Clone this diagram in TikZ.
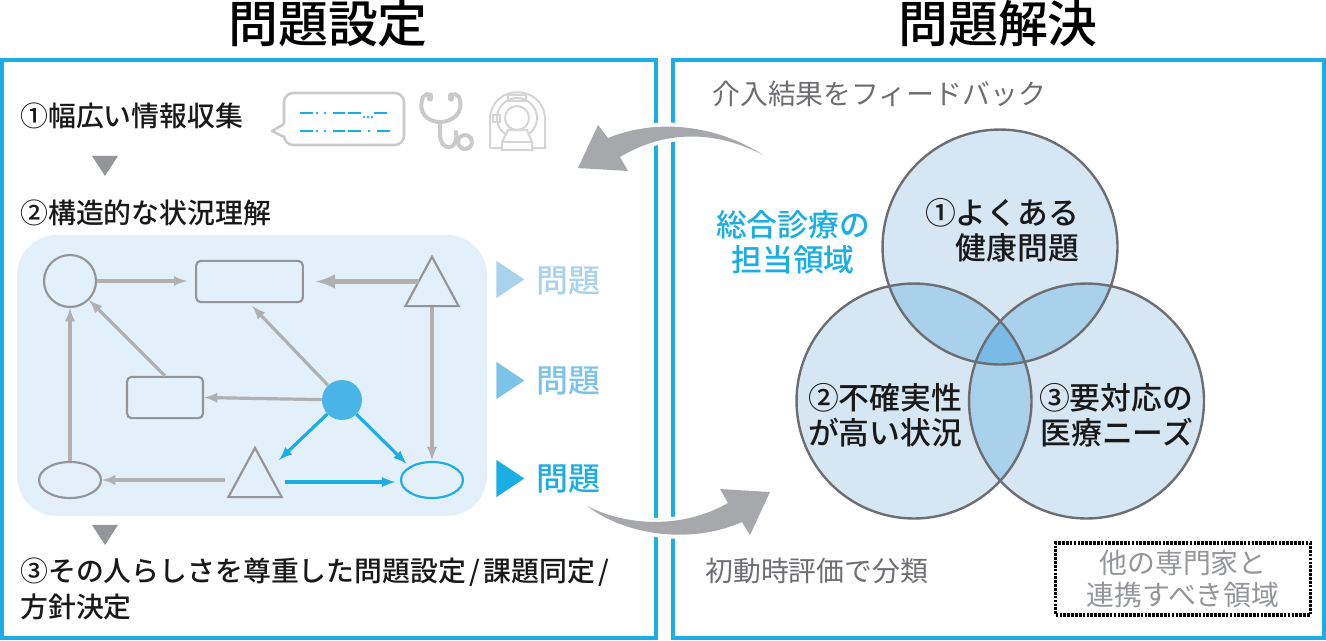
\documentclass[tikz,border=0pt]{standalone}
\usepackage{fontspec}
\setmainfont{Noto Sans CJK JP}
\newfontfamily\boldjp{Noto Sans CJK JP Medium}
\usetikzlibrary{shapes.geometric}
\definecolor{skyline}{HTML}{1AAEE5}
\definecolor{panelbg}{HTML}{E3F0FA}
\definecolor{lineg}{HTML}{B0B0B3}
\definecolor{nodeg}{HTML}{939598}
\definecolor{textg}{HTML}{6D6E71}
\definecolor{arrowg}{HTML}{A7A8AB}
\definecolor{icong}{HTML}{C9CACA}
\definecolor{vennA}{HTML}{D6E6F3}
\definecolor{vennB}{HTML}{A9D1EC}
\definecolor{vennC}{HTML}{79BAE6}
\definecolor{probA}{HTML}{A9D3EC}
\definecolor{probB}{HTML}{7DC2E9}
\definecolor{hub}{HTML}{49B4E6}
\begin{document}
\begin{tikzpicture}[x=0.75pt, y=-0.75pt,
    txt/.style = {anchor=west, inner sep=0, font=\fontsize{20.9}{26}\boldjp, text=black!90},
    head/.style = {inner sep=0, font=\fontsize{37.4}{44}\boldjp},
    note/.style = {anchor=west, inner sep=0, font=\fontsize{20.9}{26}\selectfont, text=textg},
    venntxt/.style = {inner sep=0, align=right, font=\fontsize{23.1}{26.5}\boldjp, text=black!90},
    panel/.style = {draw=skyline, line width=3pt},
    venn/.style = {circle, minimum size=176.2pt, inner sep=0},
    shp/.style = {draw=nodeg, line width=1.6pt, inner sep=0},
    oval/.style = {shp, ellipse, minimum width=46.5pt, minimum height=27pt},
    box/.style = {shp, rectangle, rounded corners=3.5pt},
    tri/.style = {shp, isosceles triangle, isosceles triangle stretches, shape border rotate=90, minimum width=40pt, minimum height=37pt},
    go/.style = {draw=lineg, line width=2.4pt, -latex},
    gob/.style = {draw=skyline, line width=2.4pt, -latex},
    play/.style = {isosceles triangle, isosceles triangle stretches, anchor=west, inner sep=0, minimum width=28pt, minimum height=21pt},
    down/.style = {isosceles triangle, isosceles triangle stretches, shape border rotate=-90, inner sep=0, fill=nodeg, minimum width=19.5pt, minimum height=15pt},
    prob/.style = {inner sep=0, font=\fontsize{24}{28}\boldjp},
    bigbend/.style = {fill=arrowg, preaction={draw=white, line width=6pt}},
    dashln/.style = {draw=skyline, line width=1.1pt},
    dotb/.style = {fill=skyline, circle, inner sep=0, minimum size=2pt},
    icon/.style = {draw=icong, line width=3pt},
    mri/.style = {draw=icong!80, line width=1.5pt}
    ]
    \useasboundingbox (0,0) rectangle (1326,640);
    \node[head] (h1) at (328,24) {問題設定};
    \node[head] (h2) at (998,24) {問題解決};
    \draw[panel] (2,60) rectangle (656,638);
    \draw[panel] (673,60) rectangle (1324,638);

    \node[txt] (s1) at (20,116) {①幅広い情報収集};
    \node[down] (d1) at (105,163) {};
    \node[txt] (s2) at (20,213) {②構造的な状況理解};
    \node[down] (d2) at (105,532) {};
    \node[txt, align=left, font=\fontsize{20.9}{27}\boldjp] (s3) at (20,589) {③その人らしさを尊重した問題設定\hspace{0.12em}/\hspace{0.12em}課題同定\hspace{0.12em}/\\方針決定};

    \draw[icong, line width=1.9pt, rounded corners=7pt, fill=white]
        (284,124) -- (284,93) -- (404,93) -- (404,145) -- (284,145) -- (284,137);
    \draw[icong, line width=1.9pt, line join=round] (284,124) -- (272,131) -- (284,137);
    \draw[dashln] (300,113) -- (313,113) (333,113) -- (345,113) (348,113) -- (361,113) (374,113) -- (387,113)
        (300,131) -- (313,131) (333,131) -- (345,131) (348,131) -- (361,131) (377,131) -- (390,131);
    \foreach \dx/\dy in {317/113, 325/113, 364/117, 368/117, 372/117, 317/131, 325/131, 369/131}
        \node[dotb] (dt\dx\dy) at (\dx,\dy) {};

    \draw[icon, line cap=round] (423,97) .. controls (417,113) and (428,122) .. (440,122)
        .. controls (452,122) and (465,113) .. (459,97);
    \draw[icon, line cap=round] (423,97) -- (427,94) (459,97) -- (455,94);
    \draw[icon, line cap=round] (440,122) -- (440,134) .. controls (440,152) and (459,152) .. (456,132);
    \draw[icon, line cap=round, line width=4pt] (430,95) -- (430,99) (451,95) -- (451,99);
    \draw[icon] (465,142) circle [radius=5.2pt];

    \draw[mri] (490,148) -- (490,120) .. controls (490,83) and (545,83) .. (545,120) -- (545,148) -- cycle;
    \draw[mri] (517,118) circle [radius=15pt];
    \draw[mri] (517,118) circle [radius=9pt];
    \draw[mri] (508,95) rectangle (526,101);
    \draw[mri] (493,115) rectangle (500,122);
    \draw[mri, fill=white] (508,130) -- (527,130) -- (532,142) -- (532,150) -- (502,150) -- (502,142) -- cycle;
    \draw[mri] (502,142) -- (532,142);

    \fill[panelbg, rounded corners=30pt] (17,235) rectangle (487,516);
    \node[shp, ellipse, minimum width=39pt, minimum height=39pt] (c1) at (70,281) {};
    \node[box, minimum width=80pt, minimum height=31pt] (r1) at (249.5,281.5) {};
    \node[tri, anchor=north] (t1) at (432,254) {};
    \node[box, minimum width=57pt, minimum height=31pt] (r2) at (165,397.5) {};
    \node[circle, fill=hub, draw=none, minimum size=30pt, inner sep=0] (f1) at (342,400) {};
    \node[oval] (e1) at (70,480) {};
    \node[tri, anchor=north] (t2) at (255,445) {};
    \node[oval, draw=skyline] (e2) at (432,480) {};
    \coordinate (t2r) at (279,460);

    \draw[go, shorten >=6pt] (c1) -- (c1 -| r1.west);
    \draw[go, line width=3.9pt, shorten <=10pt, shorten >=9pt] (t1 |- r1) -- (r1.east);
    \draw[go, shorten >=0.5pt] (t1.south) -- (e2.north);
    \draw[go, shorten >=3pt] (f1) -- (r1.south);
    \draw[go] (f1) -- (r2.east);
    \draw[go] (r2.north) -- (c1);
    \draw[go] (e1.north) -- (c1.south);
    \draw[go, shorten <=22.5pt] (t2 |- e1) -- (e1.east);
    \draw[gob] (f1) -- (t2r);
    \draw[gob, shorten >=3pt] (f1) -- (e2.north west);
    \draw[gob, shorten <=22.5pt, shorten >=3.5pt] ([yshift=-1.5pt]t2 |- e2) -- ([yshift=-1.5pt]e2.west);

    \node[play, fill=probA] (p1) at (496,279.5) {};
    \node[prob, text=probA] (q1) at (568,281) {問題};
    \node[play, fill=probB] (p2) at (496,380.5) {};
    \node[prob, text=probB] (q2) at (568,381) {問題};
    \node[play, fill=skyline] (p3) at (496,478.5) {};
    \node[prob, text=skyline] (q3) at (568,479) {問題};

    \fill[bigbend] (763,155) .. controls (725,130) and (665,115) .. (608,138) -- (598,125) -- (578,168) -- (628,171) -- (620,157)
        .. controls (665,130) and (715,130) .. cycle;
    \fill[bigbend] (587,506) .. controls (625,535) and (690,545) .. (742,522) -- (750,535) -- (770,492) -- (720,489) -- (728,503)
        .. controls (690,525) and (635,530) .. cycle;

    \node[note] (n1) at (712,94) {介入結果をフィードバック};
    \node[note] (n2) at (705,571) {初動時評価で分類};

    \fill[vennA] (1000,247) circle [radius=88.1pt] (914,401) circle [radius=88.1pt] (1086.5,401) circle [radius=88.1pt];
    \begin{scope}
        \clip (1000,247) circle [radius=88.1pt];
        \fill[vennB] (914,401) circle [radius=88.1pt];
        \fill[vennB] (1086.5,401) circle [radius=88.1pt];
    \end{scope}
    \begin{scope}
        \clip (914,401) circle [radius=88.1pt];
        \fill[vennB] (1086.5,401) circle [radius=88.1pt];
        \clip (1086.5,401) circle [radius=88.1pt];
        \fill[vennC] (1000,247) circle [radius=88.1pt];
    \end{scope}
    \node[venn, draw=textg, line width=1.8pt] (v1) at (1000,247) {};
    \node[venn, draw=textg, line width=1.8pt] (v2) at (914,401) {};
    \node[venn, draw=textg, line width=1.8pt] (v3) at (1086.5,401) {};

    \node[venntxt] (vt1) at (1002,230) {①よくある\\健康問題};
    \node[venntxt] (vt2) at (885,415) {②不確実性\\が高い状況};
    \node[venntxt] (vt3) at (1116,415) {③要対応の\\医療ニーズ};
    \node[venntxt, align=center, text=skyline] (vt4) at (793,242) {総合診療の\\担当領域};

    \node[draw=black, line width=2.4pt, dash pattern=on 2pt off 0.9pt, minimum width=191pt, minimum height=54pt, inner sep=0,
        align=center, text=nodeg, font=\fontsize{20.9}{24}\selectfont] (b1) at (1183,579) {他の専門家と\\連携すべき領域};
\end{tikzpicture}
\end{document}
